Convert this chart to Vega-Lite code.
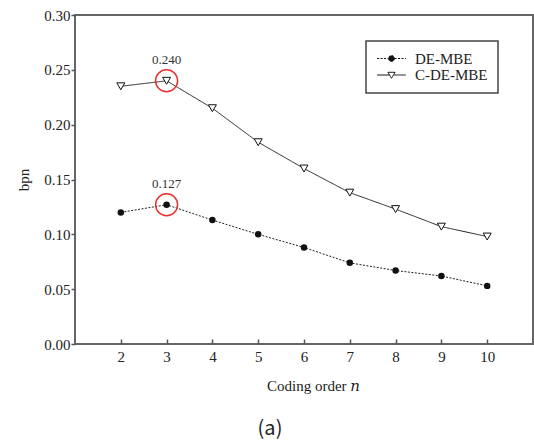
{
  "$schema": "https://vega.github.io/schema/vega-lite/v6.json",
  "width": 458,
  "height": 329,
  "autosize": {"type": "none"},
  "padding": {"left": 75, "top": 15, "right": 1, "bottom": 99},
  "background": "white",
  "config": {
    "view": {"stroke": "#666", "strokeWidth": 2},
    "axis": {"grid": false, "domain": false, "tickColor": "#555", "tickWidth": 1.5, "labelColor": "#222", "titleFontWeight": "normal", "titleColor": "#222"}
  },
  "title": {"text": "(a)", "orient": "bottom", "anchor": "middle", "frame": "group", "font": "Noto Sans CJK KR, Noto Sans", "fontSize": 20, "fontWeight": "normal", "color": "#222", "offset": 26, "dx": -34},
  "datasets": {
    "series": [
      {"n": 2, "bpn": 0.120, "method": "DE-MBE"},
      {"n": 3, "bpn": 0.127, "method": "DE-MBE"},
      {"n": 4, "bpn": 0.113, "method": "DE-MBE"},
      {"n": 5, "bpn": 0.100, "method": "DE-MBE"},
      {"n": 6, "bpn": 0.088, "method": "DE-MBE"},
      {"n": 7, "bpn": 0.074, "method": "DE-MBE"},
      {"n": 8, "bpn": 0.067, "method": "DE-MBE"},
      {"n": 9, "bpn": 0.062, "method": "DE-MBE"},
      {"n": 10, "bpn": 0.053, "method": "DE-MBE"},
      {"n": 2, "bpn": 0.235, "method": "C-DE-MBE"},
      {"n": 3, "bpn": 0.240, "method": "C-DE-MBE"},
      {"n": 4, "bpn": 0.215, "method": "C-DE-MBE"},
      {"n": 5, "bpn": 0.184, "method": "C-DE-MBE"},
      {"n": 6, "bpn": 0.160, "method": "C-DE-MBE"},
      {"n": 7, "bpn": 0.138, "method": "C-DE-MBE"},
      {"n": 8, "bpn": 0.123, "method": "C-DE-MBE"},
      {"n": 9, "bpn": 0.107, "method": "C-DE-MBE"},
      {"n": 10, "bpn": 0.098, "method": "C-DE-MBE"}
    ],
    "marks": [
      {"n": 3, "bpn": 0.240, "label": "0.240"},
      {"n": 3, "bpn": 0.127, "label": "0.127"}
    ]
  },
  "encoding": {
    "x": {"field": "n", "type": "quantitative", "scale": {"domain": [1, 11], "nice": false, "zero": false},
      "axis": {"values": [2, 3, 4, 5, 6, 7, 8, 9, 10], "tickSize": -5, "labelPadding": 10, "labelFont": "Liberation Serif, Times New Roman, serif", "labelFontSize": 15, "title": "Coding order 𝑛", "titleFont": "Liberation Serif, DejaVu Serif, serif", "titleFontSize": 15, "titlePadding": 14, "titleX": 238, "titleAlign": "center"}},
    "y": {"field": "bpn", "type": "quantitative", "scale": {"domain": [0, 0.3], "nice": false},
      "axis": {"values": [0, 0.05, 0.1, 0.15, 0.2, 0.25, 0.3], "format": ".2f", "tickSize": 4, "labelPadding": 1, "labelFont": "Liberation Serif, Times New Roman, serif", "labelFontSize": 15, "title": "bpn", "titleFont": "Liberation Serif, Times New Roman, serif", "titleFontSize": 15, "titlePadding": 12}}
  },
  "layer": [
    {
      "data": {"name": "series"},
      "mark": {"type": "line", "color": "#222", "strokeWidth": 1},
      "encoding": {
        "strokeDash": {"field": "method", "type": "nominal",
          "scale": {"domain": ["DE-MBE", "C-DE-MBE"], "range": [[2, 1.5], [1, 0]]},
          "legend": {
            "title": null, "orient": "none", "legendX": 291, "legendY": 26,
            "strokeColor": "#444", "fillColor": "white", "padding": 10, "cornerRadius": 0,
            "symbolSize": 144, "symbolOffset": 8, "symbolStrokeColor": "#111", "symbolStrokeWidth": 1,
            "labelFont": "Liberation Serif, Times New Roman, serif", "labelFontSize": 15, "labelColor": "#222", "labelOffset": 16, "rowPadding": 0.5,
            "encode": {
              "legend": {"update": {"strokeWidth": {"value": 1.5}}},
              "labels": {"update": {"font": {"value": "Liberation Serif, Times New Roman, serif"}}},
              "symbols": {"update": {
                "shape": {"signal": "datum.value === 'DE-MBE' ? 'M-2.4,0H-0.5M0.5,0H2.4M0.5,0A0.5,0.5,0,1,1,-0.5,0A0.5,0.5,0,1,1,0.5,0Z' : 'M-2.4,0H-0.33M0.33,0H2.4M-0.6,-0.45L0.6,-0.45L0,0.55Z'"},
                "fill": {"signal": "datum.value === 'DE-MBE' ? '#111' : 'white'"},
                "fillOpacity": {"value": 1},
                "stroke": {"value": "#111"},
                "strokeWidth": {"value": 1}
              }}
            }
          }}
      }
    },
    {
      "data": {"name": "series"},
      "transform": [{"filter": "datum.method === 'DE-MBE'"}],
      "mark": {"type": "point", "shape": "circle", "filled": true, "color": "#111", "size": 42, "opacity": 1},
      "encoding": {}
    },
    {
      "data": {"name": "series"},
      "transform": [{"filter": "datum.method === 'C-DE-MBE'"}],
      "mark": {"type": "point", "shape": "triangle-down", "filled": false, "fill": "white", "fillOpacity": 1, "stroke": "#111", "strokeWidth": 1, "size": 64, "opacity": 1},
      "encoding": {}
    },
    {
      "data": {"name": "marks"},
      "mark": {"type": "point", "shape": "circle", "filled": false, "stroke": "#e8312f", "strokeWidth": 1.5, "size": 484, "opacity": 1},
      "encoding": {}
    },
    {
      "data": {"name": "marks"},
      "mark": {"type": "text", "dy": -21, "fontSize": 13, "font": "Liberation Serif, Times New Roman, serif", "color": "#333", "baseline": "middle", "align": "center"},
      "encoding": {"text": {"field": "label"}}
    }
  ]
}
